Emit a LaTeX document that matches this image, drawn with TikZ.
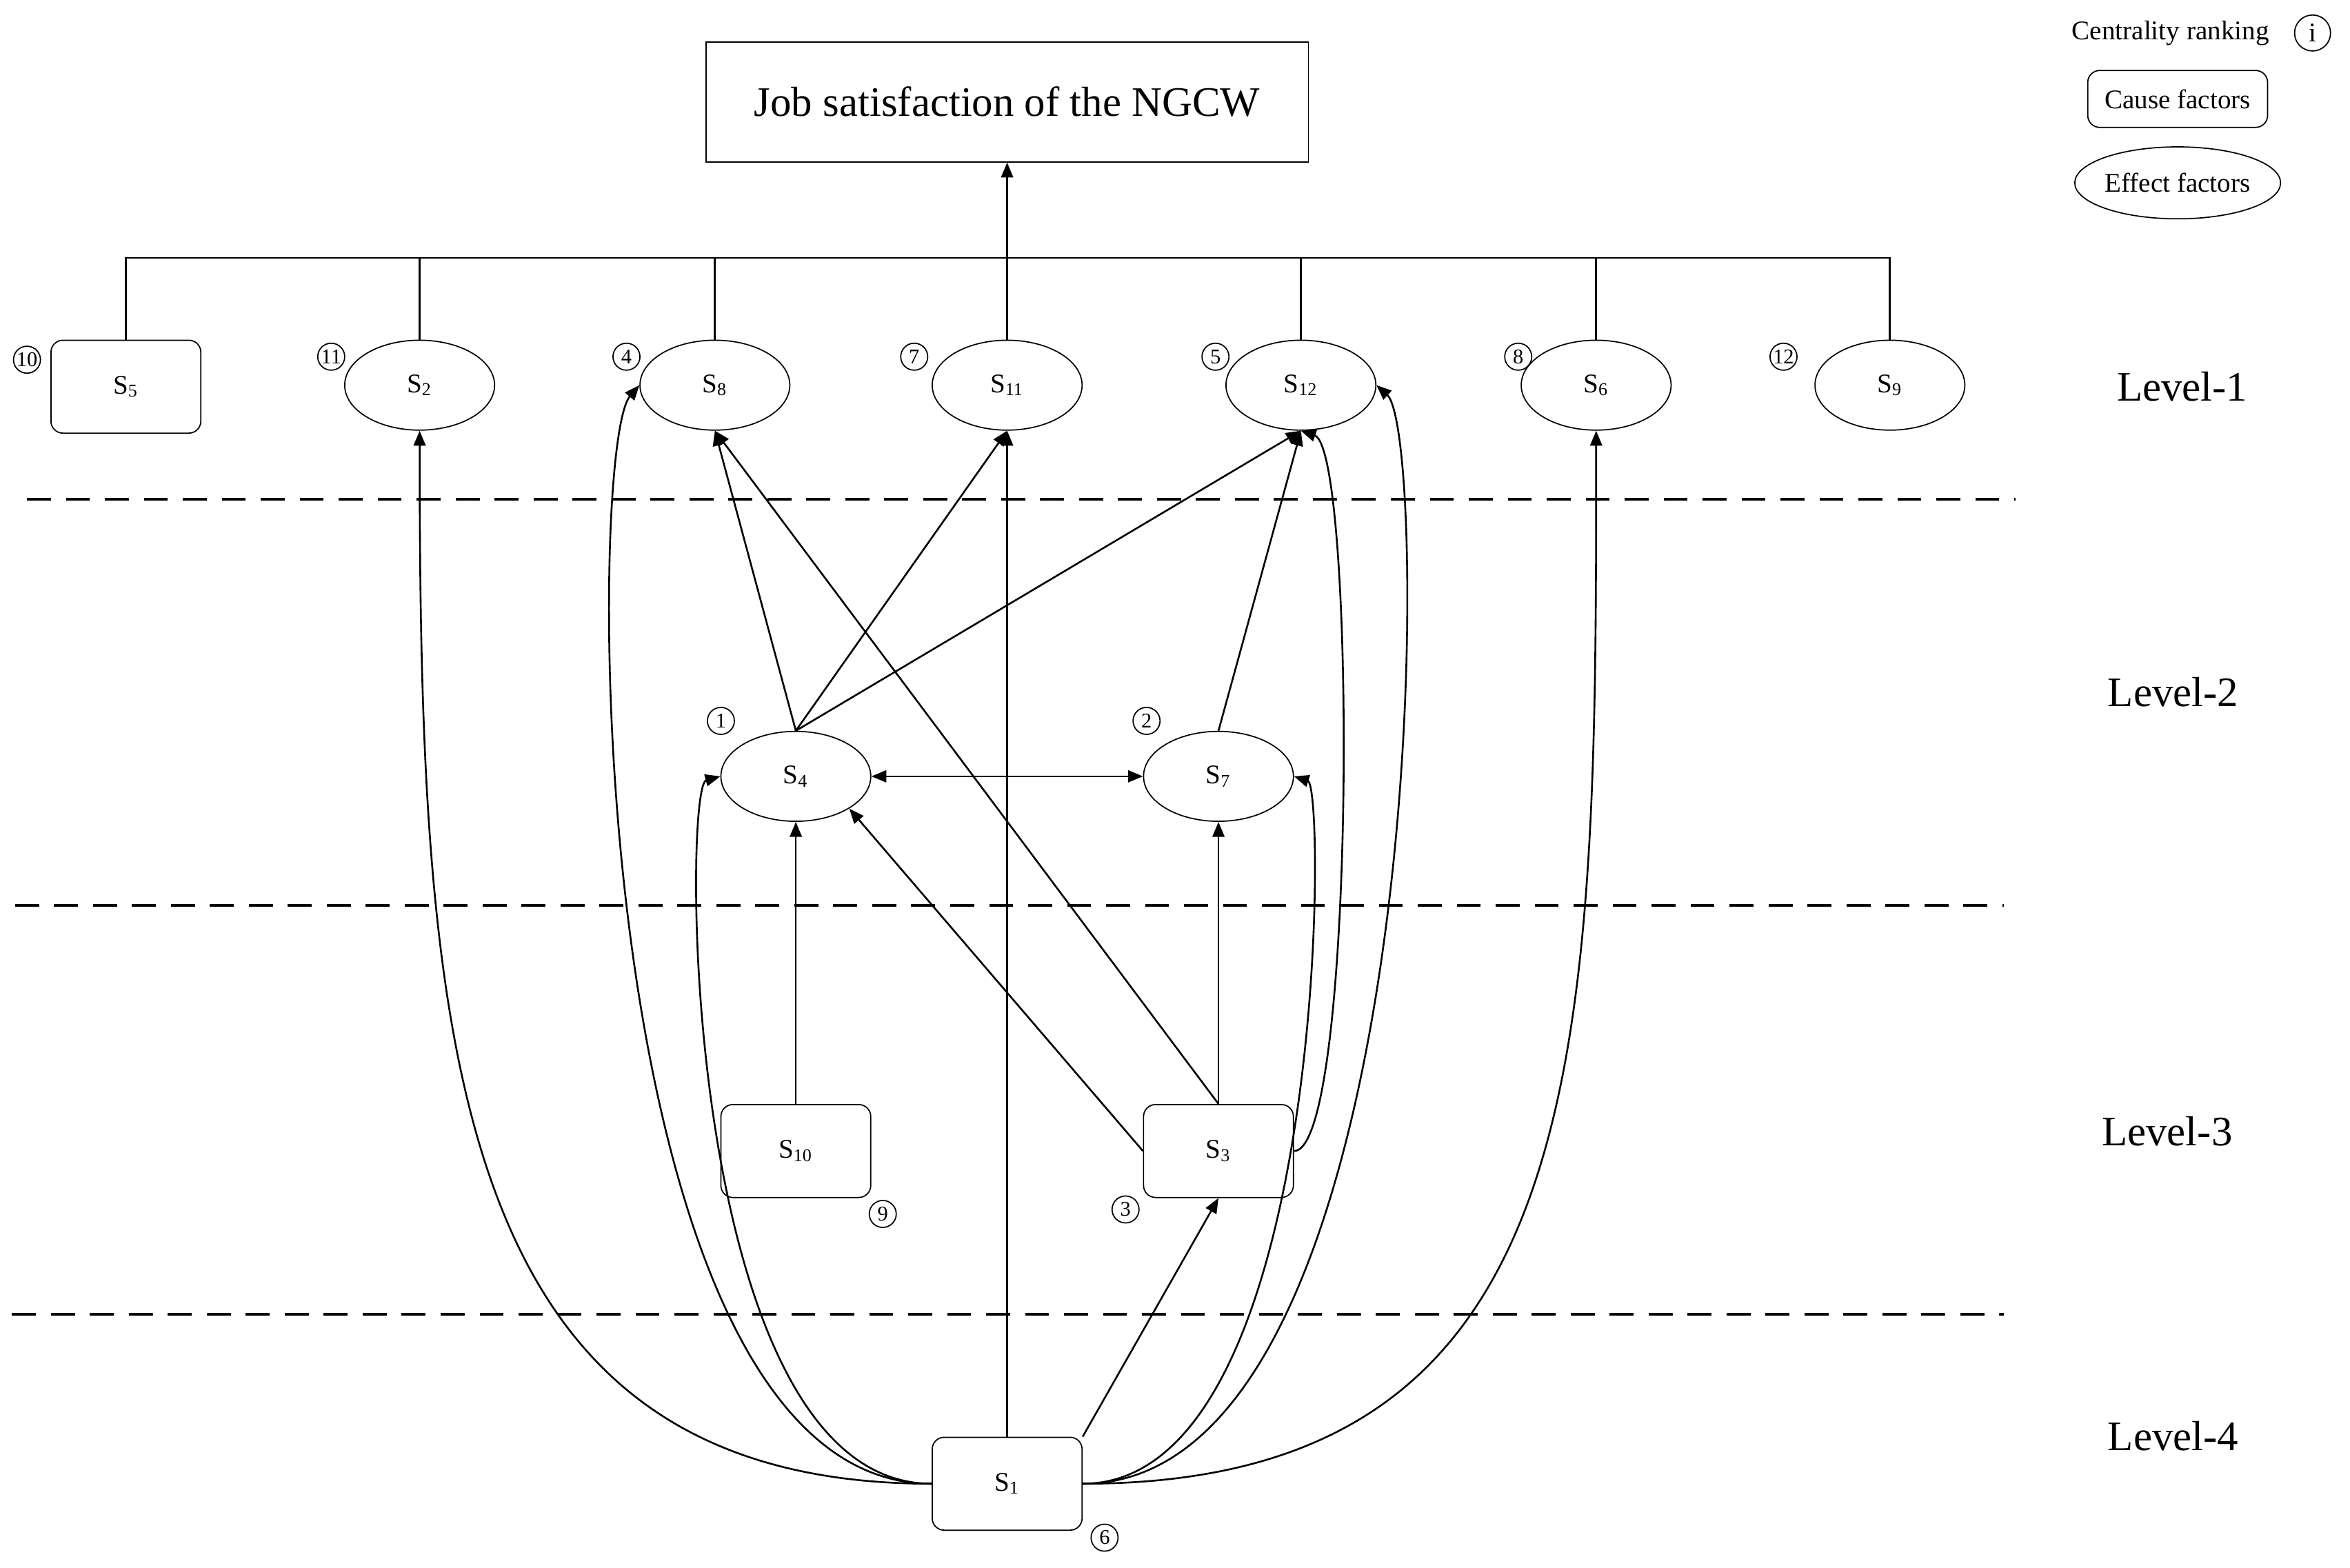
\documentclass[tikz,border=0pt]{standalone}
\usepackage{fontspec}
\setmainfont{Liberation Serif}
\usetikzlibrary{arrows.meta,shapes.geometric}
\begin{document}
\begin{tikzpicture}[x=0.5pt,y=-0.5pt,
 cause/.style={draw,rounded corners=4pt,minimum width=50pt,minimum height=31pt,inner sep=0pt,font=\fontsize{9}{10}\selectfont},
 eff/.style={draw,ellipse,minimum width=50pt,minimum height=30pt,inner sep=0pt,font=\fontsize{9}{10}\selectfont},
 rk/.style={draw,circle,minimum size=9pt,inner sep=0pt,line width=0.4pt,font=\fontsize{7}{8}\selectfont},
 lv/.style={font=\fontsize{14}{16}\selectfont},
 ar/.style={-{Triangle[length=5pt,width=4pt]},line width=0.6pt},
 ln/.style={line width=0.6pt},
 dl/.style={dashed,dash pattern=on 8pt off 5pt,line width=0.8pt}]
\useasboundingbox (0,0) rectangle (1568,1046);
\node[draw,minimum width=201pt,minimum height=40pt,font=\fontsize{14}{16}\selectfont] (top) at (672,68) {Job satisfaction of the NGCW};
% level 1
\node[cause] (s5) at (84,258) {S\textsubscript{5}};
\node[eff] (s2) at (280,257) {S\textsubscript{2}};
\node[eff] (s8) at (477,257) {S\textsubscript{8}};
\node[eff] (s11) at (672,257) {S\textsubscript{11}};
\node[eff] (s12) at (868,257) {S\textsubscript{12}};
\node[eff] (s6) at (1065,257) {S\textsubscript{6}};
\node[eff] (s9) at (1261,257) {S\textsubscript{9}};
\node[rk] (r10) at (18,240) {10};
\node[rk] (r11) at (221,238) {11};
\node[rk] (r4) at (418,238) {4};
\node[rk] (r7) at (610,238) {7};
\node[rk] (r5) at (811,238) {5};
\node[rk] (r8) at (1013,238) {8};
\node[rk] (r12) at (1190,238) {12};
\coordinate (b1) at (84,172); \coordinate (b7) at (1261,172); \coordinate (bm) at (672,172);
\draw[ln] (s5.north) -- (b1) -- (b7) -- (s9.north);
\foreach \n in {s2,s8,s11,s12,s6} \draw[ln] (\n.north) -- (\n.north |- bm);
\draw[ar] (bm) -- (top.south);
% dashed
\draw[dl] (18,333) -- (1345,333);
\draw[dl] (10,604) -- (1337,604);
\draw[dl] (8,877) -- (1337,877);
\node[lv] at (1456,258) {Level-1};
\node[lv] at (1450,462) {Level-2};
\node[lv] at (1446,755) {Level-3};
\node[lv] at (1450,958) {Level-4};
% level 2,3,4
\node[eff] (s4) at (531,518) {S\textsubscript{4}};
\node[eff] (s7) at (813,518) {S\textsubscript{7}};
\node[rk] (r1) at (481,481) {1};
\node[rk] (r2) at (765,481) {2};
\node[cause] (s10) at (531,768) {S\textsubscript{10}};
\node[cause] (s3) at (813,768) {S\textsubscript{3}};
\node[rk] (r9) at (589,810) {9};
\node[rk] (r3) at (751,807) {3};
\node[cause] (s1) at (672,990) {S\textsubscript{1}};
\node[rk] (r6) at (737,1026) {6};
% legend
\node[font=\fontsize{9}{10}\selectfont,anchor=east] (lt) at (1521,22) {Centrality ranking};
\node[draw,circle,minimum size=12pt,inner sep=0pt,font=\fontsize{9}{10}\selectfont] (li) at (1543,22) {i};
\node[cause,minimum width=60pt,minimum height=19pt] (lc) at (1453,66) {Cause factors};
\node[eff,minimum width=62pt,minimum height=24pt] (le) at (1453,122) {Effect factors};
% edges
\draw[ar] (s1.north) -- (s11.south);
\draw[ar] (s1.north east) -- (s3.south);
\draw[ar] (s1.west) .. controls (300,990) and (280,700) .. (s2.south);
\draw[ar] (s1.west) .. controls (390,990) and (390,300) .. (s8.west);
\draw[ar] (s1.west) .. controls (455,990) and (455,525) .. (s4.west);
\draw[ar] (s1.east) .. controls (885,990) and (885,525) .. (s7.east);
\draw[ar] (s1.east) .. controls (955,990) and (955,290) .. (s12.east);
\draw[ar] (s1.east) .. controls (1065,990) and (1065,700) .. (s6.south);
\draw[ar] (s4.north) -- (s8.south);
\draw[ar] (s4.north) -- (s11.south);
\draw[ar] (s4.north) -- (s12.south);
\draw[{Triangle[length=5pt,width=4pt]}-{Triangle[length=5pt,width=4pt]},line width=0.6pt] (s4.east) -- (s7.west);
\draw[ar] (s10.north) -- (s4.south);
\draw[ar] (s3.north) -- (s7.south);
\draw[ar] (s3.north) -- (s8.south);
\draw[ar] (s3.west) -- (s4.south east);
\draw[ar] (s3.east) .. controls (905,768) and (905,300) .. (s12.south);
\draw[ar] (s7.north) -- (s12.south);
\end{tikzpicture}
\end{document}
